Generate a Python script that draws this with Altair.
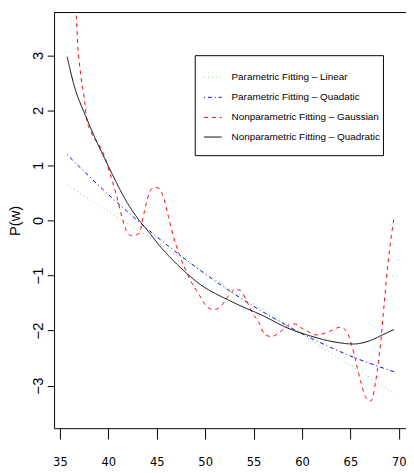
import altair as alt
import pandas as pd

# ---- data ----
SERIES = [
    "Parametric Fitting – Linear",
    "Parametric Fitting – Quadatic",
    "Nonparametric Fitting – Gaussian",
    "Nonparametric Fitting – Quadratic",
]
COLORS = ["#6fdc6f", "#0000ff", "#ff0000", "#000000"]
DASHES = [[1, 3], [1, 3, 4, 3], [4, 4], [1, 0]]

lin_x = [35.75, 40, 45, 50, 55, 60, 65, 69.5]
lin_y = [0.644, 0.168, -0.392, -0.952, -1.512, -2.072, -2.632, -3.135]

quad_x = [35.75, 40, 45, 50, 55, 60, 65, 69.5]
quad_y = [1.196, 0.473, -0.294, -0.971, -1.558, -2.055, -2.462, -2.75]

gauss_x = [35.75, 36.0, 36.76, 36.86, 36.96, 37.2, 37.51, 37.78, 38.12, 38.52, 39.13,
           39.53, 40.3, 40.81, 41.49, 42.0, 42.5, 43.18, 43.68, 44.19, 44.7, 45.2,
           45.71, 46.21, 46.72, 47.39, 48.4, 49.41, 50.26, 50.93, 51.61, 52.45,
           53.13, 53.63, 54.31, 54.98, 55.49, 56.16, 56.84, 57.85, 58.86, 59.2,
           60.21, 61.56, 62.91, 63.93, 64.6, 65.1, 65.61, 66.11, 66.62, 67.13,
           67.63, 68.14, 68.48, 68.82, 69.05, 69.5]
gauss_y = [7.0, 6.0, 3.48, 3.13, 2.95, 2.59, 2.24, 1.82, 1.65, 1.50, 1.35,
           1.20, 0.78, 0.48, 0.01, -0.23, -0.28, -0.23, 0.13, 0.48, 0.60, 0.59,
           0.42, 0.07, -0.29, -0.64, -1.06, -1.36, -1.58, -1.62, -1.56, -1.36,
           -1.25, -1.27, -1.47, -1.71, -1.83, -2.07, -2.11, -2.01, -1.88, -1.88,
           -1.98, -2.08, -2.01, -1.94, -2.01, -2.25, -2.60, -2.96, -3.22, -3.28,
           -2.90, -2.19, -1.53, -0.88, -0.52, 0.05]

npq_x = [35.75, 36.43, 37.78, 39.97, 42.0, 43.2, 44.0, 45.5, 47.0, 49.4, 52.8,
         56.2, 58.2, 60.9, 63.6, 65.3, 67.0, 68.3, 69.5]
npq_y = [2.975, 2.48, 1.85, 1.0, 0.31, 0.0, -0.17, -0.50, -0.78, -1.15, -1.48,
         -1.75, -1.93, -2.10, -2.215, -2.245, -2.185, -2.08, -1.98]

x_ticks = [35, 40, 45, 50, 55, 60, 65, 70]
y_ticks = [-3, -2, -1, 0, 1, 2, 3]

frames = []
for name, xs, ys in zip(SERIES, [lin_x, quad_x, gauss_x, npq_x],
                        [lin_y, quad_y, gauss_y, npq_y]):
    frames.append(pd.DataFrame({"x": xs, "y": ys, "series": name}))
df = pd.concat(frames, ignore_index=True)

W, H = 359, 424
NARROW = "DejaVu Sans Condensed, Liberation Sans, sans-serif"
REG = "Liberation Sans, Arial, sans-serif"

xscale = alt.Scale(domain=[34.4, 70.74], nice=False, zero=False)
yscale = alt.Scale(domain=[-3.775, 3.78], nice=False, zero=False)

lines = alt.Chart(df).mark_line(clip=True, strokeWidth=1, interpolate="monotone").encode(
    x=alt.X("x:Q", scale=xscale,
            axis=alt.Axis(values=x_ticks, title=None, grid=False, tickSize=11,
                          labelFont=NARROW, labelFontSize=13, labelPadding=17,
                          labelColor="black", domainColor="black", tickColor="black",
                          format="d")),
    y=alt.Y("y:Q", scale=yscale,
            axis=alt.Axis(values=y_ticks, title="P(w)", grid=False, tickSize=7,
                          labelAngle=270, labelAlign="center", labelBaseline="bottom",
                          labelPadding=2, labelFont=REG, labelFontSize=15,
                          labelColor="black", domainColor="black", tickColor="black",
                          titleFont=REG, titleFontSize=15, titleFontWeight="normal",
                          titleAngle=270, titleX=-40, titleY=H / 2,
                          titleAlign="center", titleBaseline="middle",
                          titleColor="black", format="d")),
    color=alt.Color("series:N", scale=alt.Scale(domain=SERIES, range=COLORS), legend=None),
    strokeDash=alt.StrokeDash("series:N", scale=alt.Scale(domain=SERIES, range=DASHES),
                              legend=None),
    detail="series:N",
)

one = pd.DataFrame({"a": [0]})
top_border = alt.Chart(one).mark_rule(color="black", strokeWidth=1).encode(
    x=alt.value(0), x2=alt.value(W), y=alt.value(0))

box = alt.Chart(one).mark_rect(fill="white", stroke="black", strokeWidth=1).encode(
    x=alt.value(144), x2=alt.value(336), y=alt.value(44), y2=alt.value(146))

legend_layers = [box]
row_y = [66, 86.5, 107, 127]
for name, col, dash, ry in zip(SERIES, COLORS, DASHES, row_y):
    legend_layers.append(
        alt.Chart(one).mark_rule(color=col, strokeWidth=1, strokeDash=dash).encode(
            x=alt.value(153), x2=alt.value(171), y=alt.value(ry)))
    legend_layers.append(
        alt.Chart(one).mark_text(align="left", baseline="middle", font=REG,
                                 fontSize=10.1, color="black").encode(
            x=alt.value(181), y=alt.value(ry), text=alt.value(name)))

chart = alt.layer(lines, top_border, *legend_layers).properties(
    width=W, height=H,
    autosize=alt.AutoSizeParams(type="none"),
    padding={"left": 47, "top": 0, "right": 0, "bottom": 37},
).configure_view(stroke=None)

chart.save("out.html", embed_options={"renderer": "svg", "actions": False})
